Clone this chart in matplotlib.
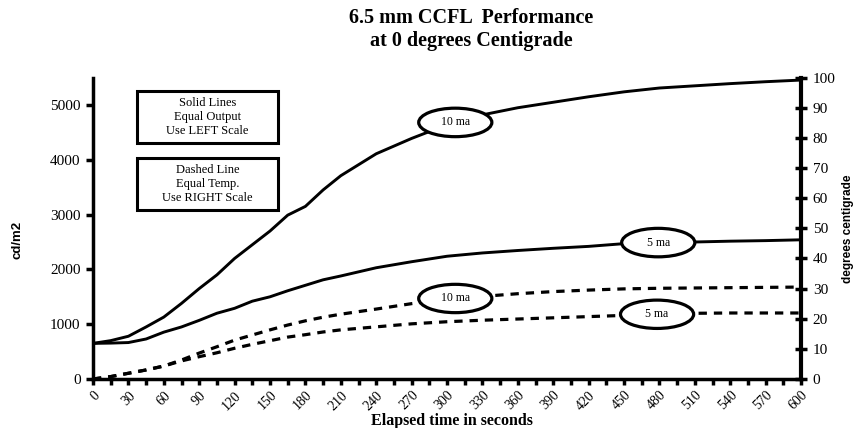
import numpy as np
import matplotlib
matplotlib.use("Agg")
import matplotlib.pyplot as plt
from matplotlib.patches import Ellipse, Rectangle

plt.rcParams['lines.scale_dashes'] = False

# ---- data ----
time_s = [0, 15, 30, 45, 60, 75, 90, 105, 120, 135, 150, 165, 180, 195, 210,
          240, 270, 300, 330, 360, 390, 420, 450, 480, 510, 540, 570, 600]
output_10ma = [650, 700, 780, 950, 1130, 1380, 1650, 1900, 2200, 2450, 2700, 2990,
               3150, 3450, 3710, 4110, 4390, 4640, 4820, 4950, 5050, 5150, 5240,
               5310, 5350, 5390, 5425, 5455]
output_5ma = [650, 655, 665, 730, 855, 950, 1070, 1200, 1290, 1420, 1500, 1610,
              1710, 1810, 1880, 2030, 2140, 2240, 2300, 2345, 2385, 2420, 2470,
              2490, 2500, 2515, 2525, 2540]
temp_10ma = [0, 0.8, 1.9, 3.0, 4.3, 6.3, 8.6, 10.7, 12.9, 14.6, 16.3, 17.9, 19.3,
             20.5, 21.5, 23.2, 25.0, 26.5, 27.4, 28.3, 29.0, 29.5, 29.9, 30.1,
             30.2, 30.3, 30.4, 30.5]
temp_5ma = [0, 0.8, 1.9, 3.0, 4.3, 6.0, 7.4, 8.7, 10.2, 11.5, 12.7, 13.9, 14.7,
            15.6, 16.3, 17.3, 18.3, 19.0, 19.5, 19.9, 20.3, 20.7, 21.1, 21.5,
            21.8, 21.9, 21.9, 21.9]
x_ticks = list(range(0, 601, 30))
left_ticks = [0, 1000, 2000, 3000, 4000, 5000]
right_ticks = list(range(0, 101, 10))
# label anchors (time, series name)
labels = [("10 ma", 307, "output_10ma"), ("5 ma", 479, "output_5ma"),
          ("10 ma", 307, "temp_10ma"), ("5 ma", 478, "temp_5ma")]

series = {"output_10ma": output_10ma, "output_5ma": output_5ma,
          "temp_10ma": temp_10ma, "temp_5ma": temp_5ma}

serif = ['Liberation Serif', 'DejaVu Serif']
narrow = ['Liberation Sans Narrow', 'Liberation Sans', 'DejaVu Sans']

fig = plt.figure(figsize=(8.58, 4.28), dpi=100)
ax = fig.add_axes([0.1084, 0.1145, 0.8252, 0.7042])
ax2 = ax.twinx()

ax.plot(time_s, output_10ma, color='black', lw=2.1, zorder=3)
ax.plot(time_s, output_5ma, color='black', lw=2.1, zorder=3)
ax2.plot(time_s, temp_10ma, color='black', lw=2.3, dashes=(6, 5), zorder=3)
ax2.plot(time_s, temp_5ma, color='black', lw=2.3, dashes=(6, 5), zorder=3)

ax.set_xlim(0, 600)
ax.set_ylim(0, 5500)
ax2.set_ylim(0, 100)

# spines
for a in (ax, ax2):
    a.spines['top'].set_visible(False)
ax.spines['right'].set_visible(False)
ax2.spines['left'].set_visible(False)
ax2.spines['bottom'].set_visible(False)
ax.spines['left'].set_linewidth(2.5)
ax.spines['bottom'].set_linewidth(2.5)
ax2.spines['right'].set_linewidth(3)

# ticks
ax.set_yticks(left_ticks)
ax.set_yticklabels([str(v) for v in left_ticks], family=serif, fontsize=11)
ax.tick_params(axis='y', direction='out', length=5, width=2.5, pad=4)
ax2.set_yticks(right_ticks)
ax2.set_yticklabels([str(v) for v in right_ticks], family=serif, fontsize=11)
ax2.tick_params(axis='y', direction='inout', length=9, width=2.5, pad=4)

ax.set_xticks(x_ticks)
ax.set_xticks(list(range(15, 600, 30)), minor=True)
ax.set_xticklabels([str(v) for v in x_ticks], family=serif, fontsize=10,
                   rotation=45, ha='right', va='top', rotation_mode='anchor')
ax.tick_params(axis='x', which='both', direction='out', length=4, width=2.5, pad=3)

# titles / labels
fig.text(0.549, 0.957, "6.5 mm CCFL  Performance", ha='center', va='center',
         family=serif, fontweight='bold', fontsize=14.5)
fig.text(0.549, 0.905, "at 0 degrees Centigrade", ha='center', va='center',
         family=serif, fontweight='bold', fontsize=14.5)
fig.text(0.527, 0.016, "Elapsed time in seconds", ha='center', va='center',
         family=serif, fontweight='bold', fontsize=11.5)
fig.text(0.020, 0.44, "cd/m2", rotation=90, ha='center', va='center',
         family=narrow, fontweight='bold', fontsize=9.5)
fig.text(0.988, 0.465, "degrees centigrade", rotation=90, ha='center', va='center',
         family=narrow, fontweight='bold', fontsize=8.5)

# info boxes
boxes = [(0.955, 0.783, ["Solid Lines", "Equal Output", "Use LEFT Scale"]),
         (0.733, 0.561, ["Dashed Line", "Equal Temp.", "Use RIGHT Scale"])]
for top, bot, lines in boxes:
    ax.add_patch(Rectangle((0.062, bot), 0.199, top - bot, transform=ax.transAxes,
                           facecolor='white', edgecolor='black', lw=2.2, zorder=5))
    ax.text(0.1615, (top + bot) / 2, "\n".join(lines), transform=ax.transAxes,
            ha='center', va='center', family=serif, fontsize=9,
            linespacing=1.2, zorder=6)

# ellipse labels
for txt, tx, key in labels:
    yv = float(np.interp(tx, time_s, series[key]))
    target = ax if key.startswith("output") else ax2
    h = 520 if target is ax else 9.4
    target.add_patch(Ellipse((tx, yv), 62, h, facecolor='white', edgecolor='black',
                             lw=2.3, zorder=6))
    target.text(tx, yv, txt, ha='center', va='center', family=serif, fontsize=8.5,
                zorder=7)

fig.savefig("out.png", dpi=100)
